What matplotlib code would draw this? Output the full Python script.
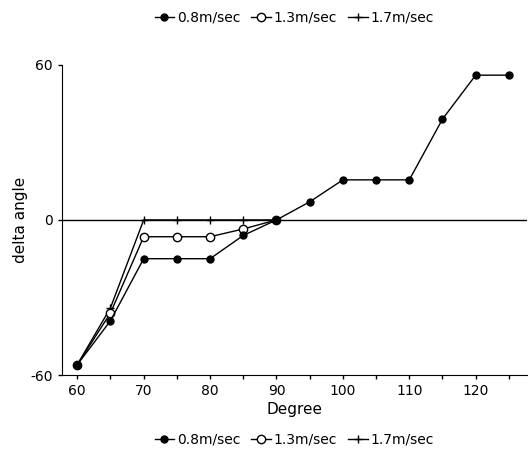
import matplotlib.pyplot as plt
import numpy as np

degree = [60, 65, 70, 75, 80, 85, 90, 95, 100, 105, 110, 115, 120, 125]
delta_08 = [-56, -39, -15, -15, -15, -6, 0, 7, 15.5, 15.5, 15.5, 39, 56, 56]
degree_13 = [60, 65, 70, 75, 80, 85, 90]
delta_13 = [-56, -36, -6.5, -6.5, -6.5, -3.5, 0]
degree_17 = [60, 65, 70, 75, 80, 85, 90]
delta_17 = [-56, -34, 0, 0, 0, 0, 0]
labels = ['0.8m/sec', '1.3m/sec', '1.7m/sec']

fig = plt.figure(figsize=(5.30, 4.63), dpi=100)
ax = fig.add_axes([0.117, 0.19, 0.877, 0.67])

l3, = ax.plot(degree_17, delta_17, color='black', lw=1.0, marker='+', ms=6,
              mew=1.0, label=labels[2], zorder=2)
l2, = ax.plot(degree_13, delta_13, color='black', lw=1.0, marker='o', ms=6,
              mfc='white', label=labels[1], zorder=3)
l1, = ax.plot(degree, delta_08, color='black', lw=1.0, marker='o', ms=5,
              mfc='black', label=labels[0], zorder=4)
ax.axhline(0, color='black', lw=1.0, zorder=1)

ax.set_xlim(57.7, 127.7)
ax.set_ylim(-60, 60)
ax.set_xticks(np.arange(60, 130, 5))
ax.set_xticklabels(['60', '', '70', '', '80', '', '90', '', '100', '', '110', '', '120', ''])
ax.set_yticks([-60, 0, 60])
ax.set_yticklabels(['-60', '0', '60'])
ax.tick_params(direction='out', length=3, width=1, labelsize=10)
ax.spines['top'].set_visible(False)
ax.spines['right'].set_visible(False)
ax.set_xlabel('Degree', fontsize=11, labelpad=3)
ax.set_ylabel('delta angle', fontsize=11, labelpad=2)

handles = [l1, l2, l3]
for yy in (0.962, 0.05):
    fig.legend(handles, labels, loc='center', bbox_to_anchor=(0.555, yy), ncol=3,
               frameon=False, fontsize=10, handlelength=1.4, handletextpad=0.2,
               columnspacing=0.8)

fig.savefig('out.png', dpi=100)
